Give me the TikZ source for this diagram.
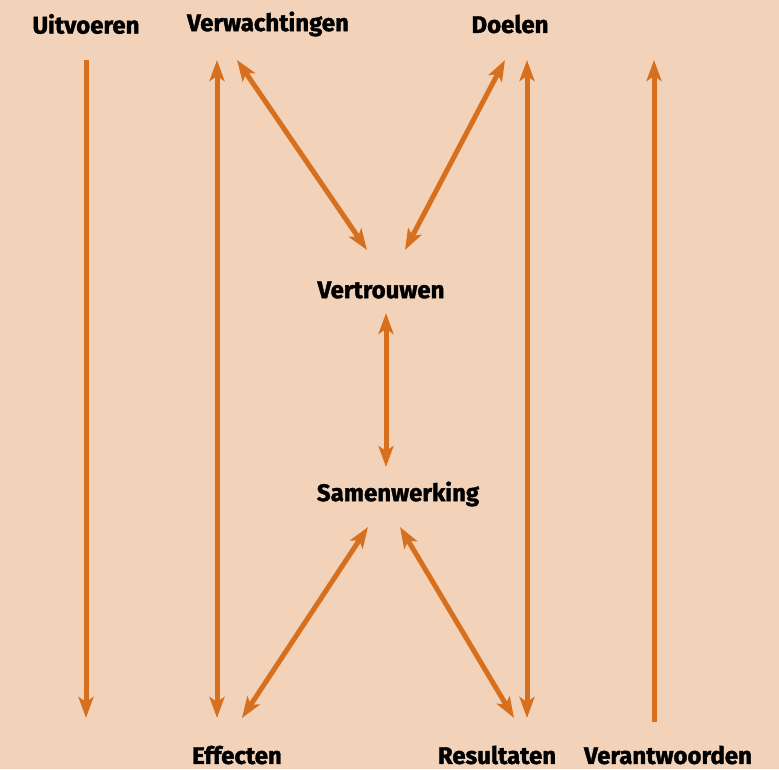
\documentclass[tikz,border=0pt]{standalone}
\usepackage{fontspec}
\setmainfont{Fira Sans}[BoldFeatures={FakeBold=1.6}]
\usetikzlibrary{arrows.meta}
\definecolor{bg}{HTML}{F2D3BA}
\definecolor{arr}{HTML}{D6701F}
\begin{document}
\begin{tikzpicture}[x=1pt,y=-1pt,
  lbl/.style={inner sep=0pt,font=\fontsize{24}{28}\selectfont\bfseries,text=black},
  conn/.style={draw=arr,line width=5pt,-{Stealth[length=21pt,width=15pt,inset=5pt]}},
  dconn/.style={draw=arr,line width=5pt,{Stealth[length=21pt,width=15pt,inset=5pt]}-{Stealth[length=21pt,width=15pt,inset=5pt]}}]
\fill[bg] (0,0) rectangle (779,769);
\useasboundingbox (0,0) rectangle (779,769);
% labels
\node[lbl] (uit) at (86,24) {Uitvoeren};
\node[lbl] (ver) at (268,24) {Verwachtingen};
\node[lbl] (doe) at (510,24) {Doelen};
\node[lbl] (vtr) at (381,290) {Vertrouwen};
\node[lbl] (sam) at (398,494) {Samenwerking};
\node[lbl] (eff) at (237,755) {Effecten};
\node[lbl] (res) at (497,755) {Resultaten};
\node[lbl] (vaw) at (668,755) {Verantwoorden};
% endpoints
\coordinate (uitT) at (86,60);  \coordinate (uitB) at (86,718);
\coordinate (vvT) at (217,60);  \coordinate (vvB) at (217,718);
\coordinate (vdT) at (237,60);  \coordinate (vdB) at (367,250);
\coordinate (ddT) at (505,60);  \coordinate (ddB) at (405,250);
\coordinate (dvT) at (527,60);  \coordinate (dvB) at (527,718);
\coordinate (vaT) at (654,60);  \coordinate (vaB) at (654,722);
\coordinate (vsT) at (386,313); \coordinate (vsB) at (386,467);
\coordinate (seT) at (368,527); \coordinate (seB) at (242,718);
\coordinate (srT) at (400,527); \coordinate (srB) at (514,718);
% connectors
\draw[conn] (uitT) -- (uitB);
\draw[dconn] (vvT) -- (vvB);
\draw[dconn] (vdT) -- (vdB);
\draw[dconn] (ddT) -- (ddB);
\draw[dconn] (dvT) -- (dvB);
\draw[conn] (vaB) -- (vaT);
\draw[dconn] (vsT) -- (vsB);
\draw[dconn] (seT) -- (seB);
\draw[dconn] (srT) -- (srB);
\end{tikzpicture}
\end{document}
